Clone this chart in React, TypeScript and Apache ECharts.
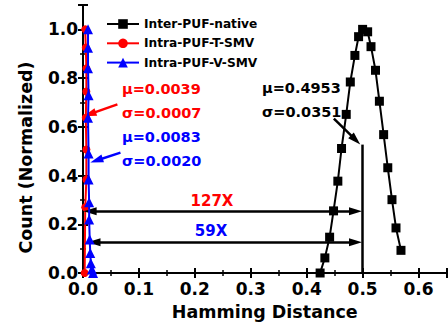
import React, { useEffect, useRef } from "react";
import * as echarts from "echarts";

const interX = [0.424, 0.4325, 0.441, 0.448, 0.4557, 0.4623, 0.4707, 0.478, 0.4862, 0.4928, 0.5, 0.509, 0.515, 0.523, 0.53, 0.5376, 0.545, 0.5525, 0.5597, 0.5686];
const interY = [0.0, 0.062, 0.147, 0.255, 0.377, 0.511, 0.651, 0.784, 0.893, 0.97, 1.0, 0.99, 0.929, 0.832, 0.705, 0.568, 0.432, 0.301, 0.185, 0.093];

const tX = [0.003, 0.004, 0.006, 0.006, 0.005, 0.006, 0.006, 0.005, 0.004];
const tY = [0.0, 0.27, 0.384, 0.507, 0.637, 0.745, 0.84, 0.925, 1.0];

const vX = [0.009, 0.009, 0.009, 0.01, 0.009, 0.01, 0.01, 0.011, 0.011, 0.012, 0.013, 0.014, 0.016, 0.018];
const vY = [1.0, 0.925, 0.84, 0.73, 0.637, 0.49, 0.384, 0.29, 0.22, 0.137, 0.082, 0.04, 0.014, 0.0];

const seriesNames = ["Inter-PUF-native", "Intra-PUF-T-SMV", "Intra-PUF-V-SMV"];
const annotations = {
  t: ["μ=0.0039", "σ=0.0007"],
  v: ["μ=0.0083", "σ=0.0020"],
  inter: ["μ=0.4953", "σ=0.0351"],
  ratios: ["127X", "59X"],
};

const FONT = "DejaVu Sans";

export default function App() {
  const ref = useRef<HTMLDivElement>(null);
  useEffect(() => {
    const chart = echarts.init(ref.current!, null, { renderer: "svg" });
    const zip = (xs: number[], ys: number[]) => xs.map((x, i) => [x, ys[i]]);
    const axisCommon = {
      type: "value",
      axisLine: { show: true, lineStyle: { color: "#000", width: 2 } },
      axisTick: { show: true, inside: true, length: 5, lineStyle: { color: "#000", width: 2 } },
      minorTick: { show: true, splitNumber: 2, length: 3, lineStyle: { color: "#000", width: 1.5 } },
      splitLine: { show: false },
    };
    const txt = (x: number, y: number, text: string, color: string, size = 14.5, align = "left") => ({
      type: "text",
      x,
      y,
      style: { text, fill: color, fontSize: size, fontWeight: "bold", fontFamily: FONT, align, verticalAlign: "middle" },
    });
    const arrowSize = [8, 13];
    chart.setOption({
      animation: false,
      grid: { left: 83, right: 1.5, top: 5, bottom: 56 },
      legend: {
        data: seriesNames,
        orient: "vertical",
        left: 101,
        top: 11,
        padding: 5,
        itemWidth: 32,
        itemHeight: 12,
        itemGap: 3.3,
        textStyle: { fontSize: 12.2, lineHeight: 16, fontWeight: "bold", fontFamily: FONT, color: "#000" },
      },
      xAxis: [
        {
          ...axisCommon,
          min: 0,
          max: 0.65,
          interval: 0.1,
          position: "bottom",
          name: "Hamming Distance",
          nameLocation: "middle",
          nameGap: 30,
          nameTextStyle: { fontSize: 17.5, fontWeight: "bold", fontFamily: FONT, color: "#000" },
          axisLabel: {
            showMaxLabel: false,
            margin: 7,
            fontSize: 17,
            fontWeight: "bold",
            fontFamily: FONT,
            color: "#000",
            formatter: (v: number) => v.toFixed(1),
          },
        },
        {
          ...axisCommon,
          min: 0,
          max: 0.65,
          interval: 0.1,
          position: "top",
          axisLabel: { show: false },
        },
      ],
      yAxis: [
        {
          ...axisCommon,
          min: 0,
          max: 1.1,
          interval: 0.2,
          position: "left",
          axisLabel: {
            showMaxLabel: false,
            margin: 5,
            fontSize: 17,
            fontWeight: "bold",
            fontFamily: FONT,
            color: "#000",
            formatter: (v: number) => v.toFixed(1),
          },
        },
        {
          ...axisCommon,
          min: 0,
          max: 1.1,
          interval: 0.2,
          position: "right",
          axisLabel: { show: false },
        },
      ],
      graphic: [
        {
          type: "text",
          x: 26,
          y: 157.5,
          rotation: Math.PI / 2,
          style: {
            text: "Count (Normalized)",
            fill: "#000",
            fontSize: 17.5,
            fontWeight: "bold",
            fontFamily: FONT,
            align: "center",
            verticalAlign: "middle",
          },
        },
        txt(122, 89, annotations.t[0], "#f00"),
        txt(122, 113, annotations.t[1], "#f00"),
        txt(122, 137, annotations.v[0], "#00f"),
        txt(122, 161, annotations.v[1], "#00f"),
        txt(262, 88, annotations.inter[0], "#000"),
        txt(262, 112, annotations.inter[1], "#000"),
        txt(212, 201, annotations.ratios[0], "#f00", 15, "center"),
        txt(211, 231, annotations.ratios[1], "#00f", 15, "center"),
      ],
      series: [
        {
          name: seriesNames[0],
          type: "line",
          data: zip(interX, interY),
          symbol: "rect",
          symbolSize: 9,
          itemStyle: { color: "#000" },
          lineStyle: { color: "#000", width: 2 },
          z: 3,
          markLine: {
            silent: true,
            symbolSize: arrowSize,
            label: { show: false },
            lineStyle: { color: "#000", width: 2.5, type: "solid" },
            data: [
              [
                { coord: [0.0127, 0.253], symbol: "triangle" },
                { coord: [0.4873, 0.253], symbol: "triangle" },
              ],
              [
                { coord: [0.0197, 0.126], symbol: "triangle" },
                { coord: [0.4873, 0.126], symbol: "triangle" },
              ],
              [
                { coord: [0.4486, 0.634], symbol: "none" },
                { coord: [0.4875, 0.546], symbol: "triangle" },
              ],
              [
                { coord: [0.499, 0], symbol: "none" },
                { coord: [0.499, 0.527], symbol: "none" },
              ],
            ],
          },
        },
        {
          name: seriesNames[1],
          type: "line",
          data: zip(tX, tY),
          symbol: "circle",
          symbolSize: 8,
          itemStyle: { color: "#f00" },
          lineStyle: { color: "#f00", width: 2 },
          z: 4,
          markLine: {
            silent: true,
            symbolSize: arrowSize,
            label: { show: false },
            lineStyle: { color: "#f00", width: 2.5, type: "solid" },
            data: [
              [
                { coord: [0.0615, 0.692], symbol: "none" },
                { coord: [0.012, 0.652], symbol: "triangle" },
              ],
            ],
          },
        },
        {
          name: seriesNames[2],
          type: "line",
          data: zip(vX, vY),
          symbol: "triangle",
          symbolSize: 10,
          itemStyle: { color: "#00f" },
          lineStyle: { color: "#00f", width: 2 },
          z: 5,
          markLine: {
            silent: true,
            symbolSize: arrowSize,
            label: { show: false },
            lineStyle: { color: "#00f", width: 2.5, type: "solid" },
            data: [
              [
                { coord: [0.067, 0.494], symbol: "none" },
                { coord: [0.0242, 0.462], symbol: "triangle" },
              ],
            ],
          },
        },
      ],
    });
    return () => chart.dispose();
  }, []);
  return (
    <div
      ref={ref}
      style={{ position: "fixed", left: 0, top: 0, width: 448, height: 329, background: "#fff" }}
    />
  );
}
